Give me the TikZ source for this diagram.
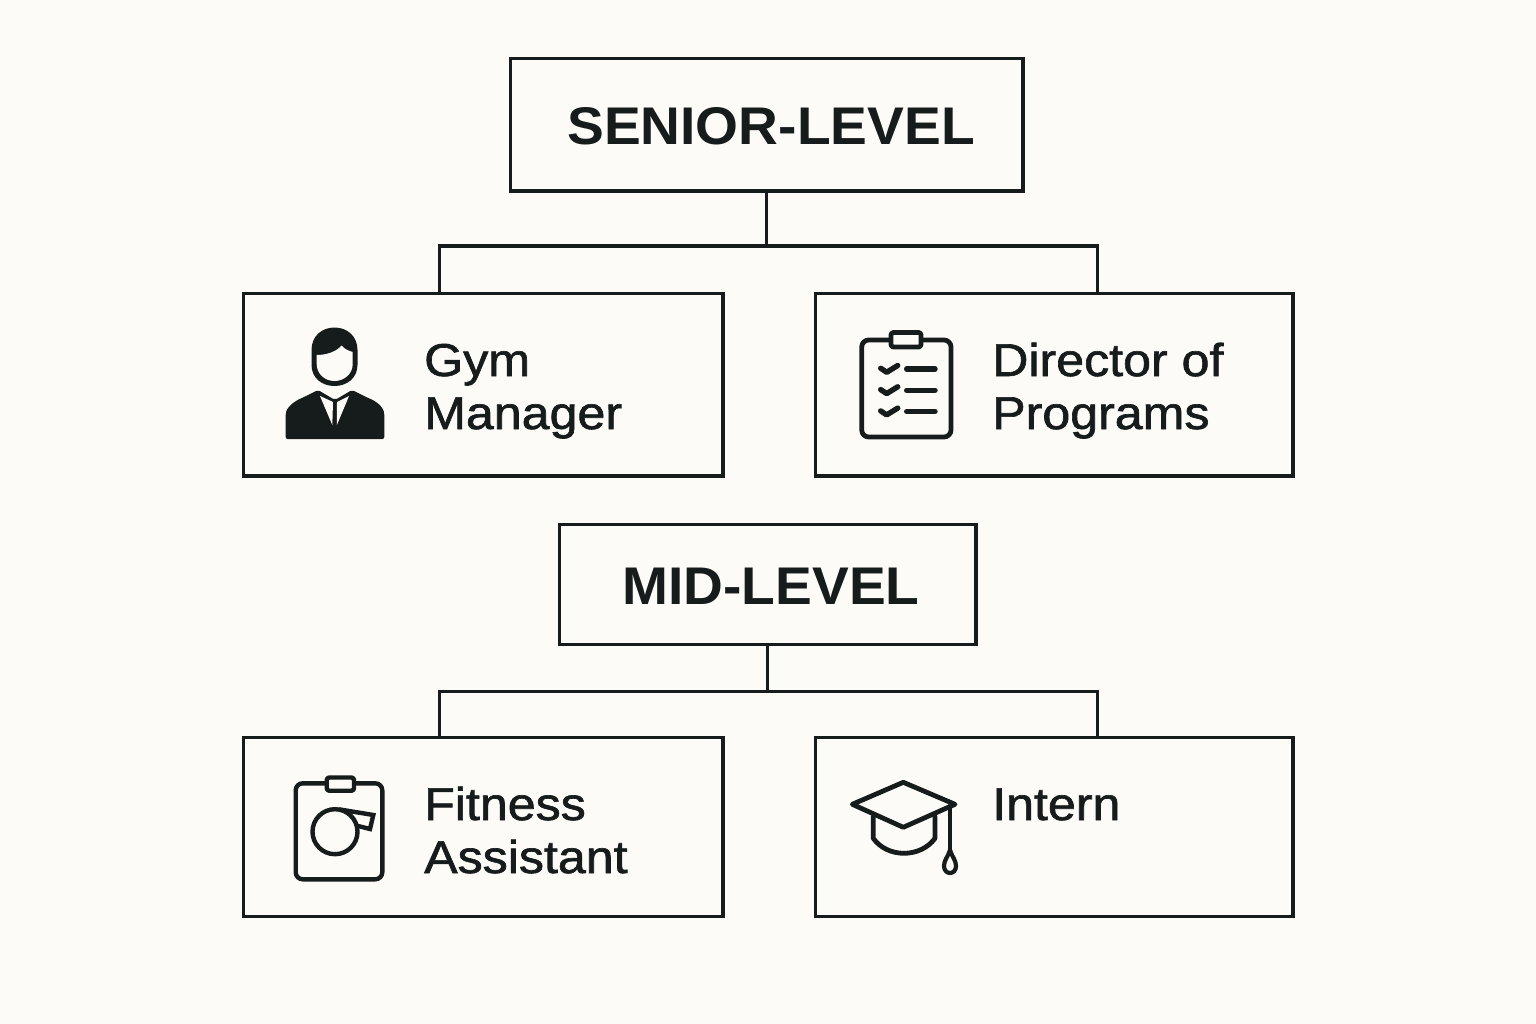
\documentclass[tikz,border=0pt]{standalone}
\usepackage{fontspec}
\setmainfont{Liberation Sans}
\newfontfamily\medfont[FakeBold=1.4,FakeStretch=1.09]{Liberation Sans}
\newfontfamily\headfont[FakeStretch=1.04]{Liberation Sans Bold}
\definecolor{paper}{HTML}{FDFBF7}
\definecolor{ink}{HTML}{161B1C}
\tikzset{
  boxnode/.style={draw=ink,line width=3.2pt,fill=none,inner sep=0pt,outer sep=0pt,rectangle},
  conn/.style={draw=ink,line width=3.2pt,line cap=butt,line join=miter},
  headtext/.style={text=ink,inner sep=0pt,font=\headfont\fontsize{53}{60}\selectfont,anchor=base},
  roletext/.style={text=ink,inner sep=0pt,font=\medfont\fontsize{46}{53.5}\selectfont,anchor=base west,align=left},
  icon/.style={draw=ink,line width=4.8pt,line join=round,line cap=round},
  iconthin/.style={draw=ink,line width=5.4pt,line cap=round,line join=round},
}
\begin{document}
\begin{tikzpicture}[x=1pt,y=-1pt]
\fill[paper] (0,0) rectangle (1536,1024);
\useasboundingbox (0,0) rectangle (1536,1024);
% boxes
\node[boxnode,minimum width=512.5pt,minimum height=132.5pt] (senior) at (766.8,124.8) {};
\node[boxnode,minimum width=479.5pt,minimum height=182.5pt] (gym) at (483.2,384.8) {};
\node[boxnode,minimum width=477.5pt,minimum height=182.5pt] (dir) at (1054.3,384.8) {};
\node[boxnode,minimum width=416.5pt,minimum height=120.5pt] (mid) at (767.8,584.6) {};
\node[boxnode,minimum width=479.5pt,minimum height=179.5pt] (fit) at (483.2,827.1) {};
\node[boxnode,minimum width=477.5pt,minimum height=179.5pt] (intern) at (1054.3,827.1) {};
% connectors
\draw[conn] (senior.south) -- ++(0,55) coordinate (sj);
\draw[conn] ([xshift=-44pt]gym.north) |- (sj) -| ([xshift=43pt]dir.north);
\draw[conn] (mid.south) -- ++(0,47) coordinate (mj);
\draw[conn] ([xshift=-44pt]fit.north) |- (mj) -| ([xshift=43pt]intern.north);
% text
\node[headtext] (t1) at (771,145) {SENIOR-LEVEL};
\node[headtext] (t2) at (771,604) {MID-LEVEL};
\node[roletext] (t3) at (424,376) {Gym};
\node[roletext] (t3b) at (424,429) {Manager};
\node[roletext] (t4) at (992,376) {Director of};
\node[roletext] (t4b) at (992,429) {Programs};
\node[roletext] (t5) at (424,820) {Fitness};
\node[roletext] (t5b) at (424,873) {Assistant};
\node[roletext] (t6) at (992,820) {Intern};
% person icon
\fill[ink] (311.5,350) .. controls (311.5,336) and (322,327.5) .. (334.5,327.5) .. controls (347,327.5) and (357.5,336) .. (357.5,350) -- (357.5,365) .. controls (357.5,378) and (347,386) .. (334.5,386) .. controls (322,386) and (311.5,378) .. (311.5,365) -- cycle;
\fill[paper] (316.7,355) .. controls (326,355) and (336,352) .. (341.7,345.5) .. controls (344,349) and (349,351) .. (352.7,352) -- (352.7,364) .. controls (352.7,374) and (344,381) .. (334.5,381) .. controls (325,381) and (316.7,374) .. (316.7,364) -- cycle;
\fill[ink,rounded corners=2pt] (285.7,439) -- (285.7,416) .. controls (286,407) and (295,401) .. (303,397.5) -- (318,390) -- (335,400) -- (352,390) -- (367,397.5) .. controls (376,401) and (384,407) .. (384.3,416) -- (384.3,439) -- cycle;
\fill[paper] (320,396) -- (333,402) -- (332.3,425) -- cycle;
\fill[paper] (349,396) -- (337,402) -- (336.9,425) -- cycle;
% checklist icon
\draw[icon,fill=none,rounded corners=7pt] (861.7,340) rectangle (951,437);
\draw[icon,fill=paper,rounded corners=2.5pt] (891,332.5) rectangle (921,347);
\foreach \yy in {0,21.3,42.6}{
  \draw[iconthin] (906.7,369+\yy) -- (935,369+\yy);
  \draw[iconthin] (880.7,368.3+\yy) -- (886.7,372.3+\yy) -- (897.7,365.5+\yy);
}
% whistle icon
\draw[icon,line width=4.4pt,fill=none,rounded corners=7pt] (295.7,783.3) rectangle (382.3,879.3);
\draw[icon,line width=4.4pt,fill=paper,rounded corners=2.5pt] (326.7,777.5) rectangle (354,790.7);
\draw[icon,line width=4.4pt,line join=miter] (340,809.5) -- (373.3,815) -- (370,829) -- (357,825.7);
\draw[icon,line width=4.4pt] (335,831.7) circle (22.5pt);
% cap icon
\draw[icon] (873.3,816.7) -- (873.3,838.3) .. controls (880,848) and (892,853.3) .. (904,853.3) .. controls (916,853.3) and (928,848) .. (935,838.3) -- (935,816.7);
\draw[icon,fill=paper] (903.3,782.3) -- (955,804.3) -- (903.3,827.3) -- (852.3,804.3) -- cycle;
\draw[icon] (950,806.7) -- (950,850);
\draw[icon,line width=4.2pt] (950,850) .. controls (948,857) and (944,860) .. (944,866) .. controls (944,870.5) and (947,873) .. (950,873) .. controls (953,873) and (956,870.5) .. (956,866) .. controls (956,860) and (952,857) .. (950,850) -- cycle;
\end{tikzpicture}
\end{document}
